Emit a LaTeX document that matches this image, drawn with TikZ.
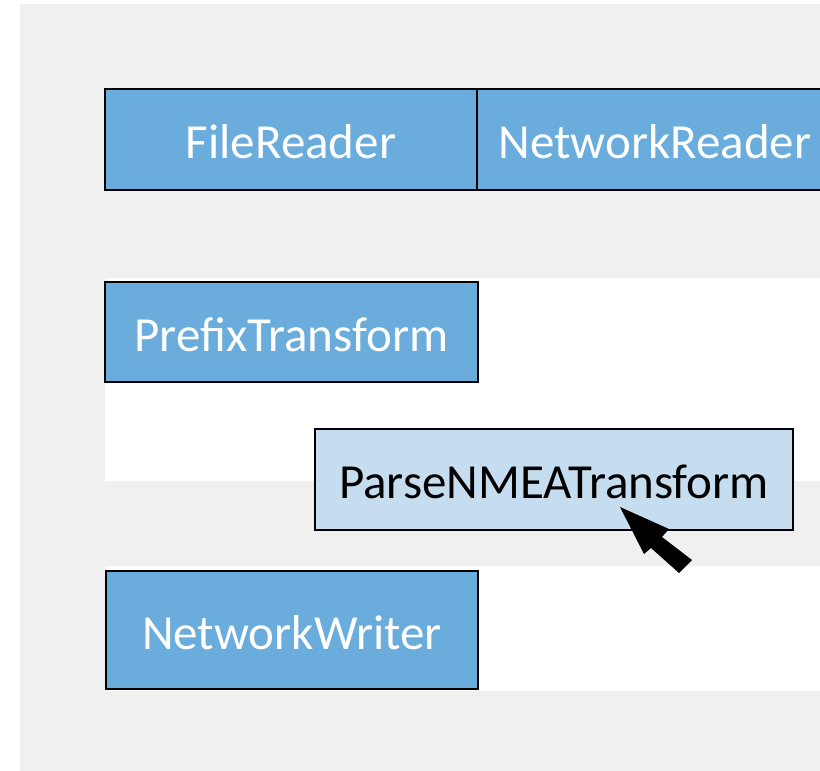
\documentclass[tikz,border=0pt]{standalone}
\usepackage{fontspec}
\setmainfont{Carlito}
\definecolor{bggray}{HTML}{F0F0F0}
\definecolor{darkblue}{HTML}{6AACDC}
\definecolor{lightblue}{HTML}{C6DDF0}
\begin{document}
\begin{tikzpicture}[x=1pt,y=-1pt,
  stage/.style={draw=black,line width=2pt,fill=darkblue,text=white,font=\fontsize{49}{52}\selectfont,inner sep=0pt,anchor=north west,text height=38pt,text depth=0pt},
  active/.style={stage,fill=lightblue,text=black}]
\useasboundingbox (0,0) rectangle (820,771);
\fill[white] (0,0) rectangle (820,771);
\fill[bggray] (20,4) rectangle (820,771);
\fill[white] (105,278) rectangle (820,481);
\fill[white] (105,566) rectangle (820,691);
\begin{scope}
\clip (0,0) rectangle (820,771);
\node[stage,minimum width=372pt,minimum height=101pt] (filereader) at (104,88) {FileReader};
\node[stage,minimum width=356pt,minimum height=101pt] (networkreader) at (476,88) {NetworkReader};
\end{scope}
\node[stage,minimum width=373pt,minimum height=100pt] (prefix) at (104,281) {PrefixTransform};
\node[active,minimum width=478pt,minimum height=101pt] (parse) at (314,428) {ParseNMEATransform};
\node[stage,minimum width=372pt,minimum height=118pt] (writer) at (105,570) {NetworkWriter};
\fill[black] (620,507) -- (669,529) -- (662,537) -- (692,560) -- (679,573) -- (651,548) -- (644,554) -- cycle;
\end{tikzpicture}
\end{document}
